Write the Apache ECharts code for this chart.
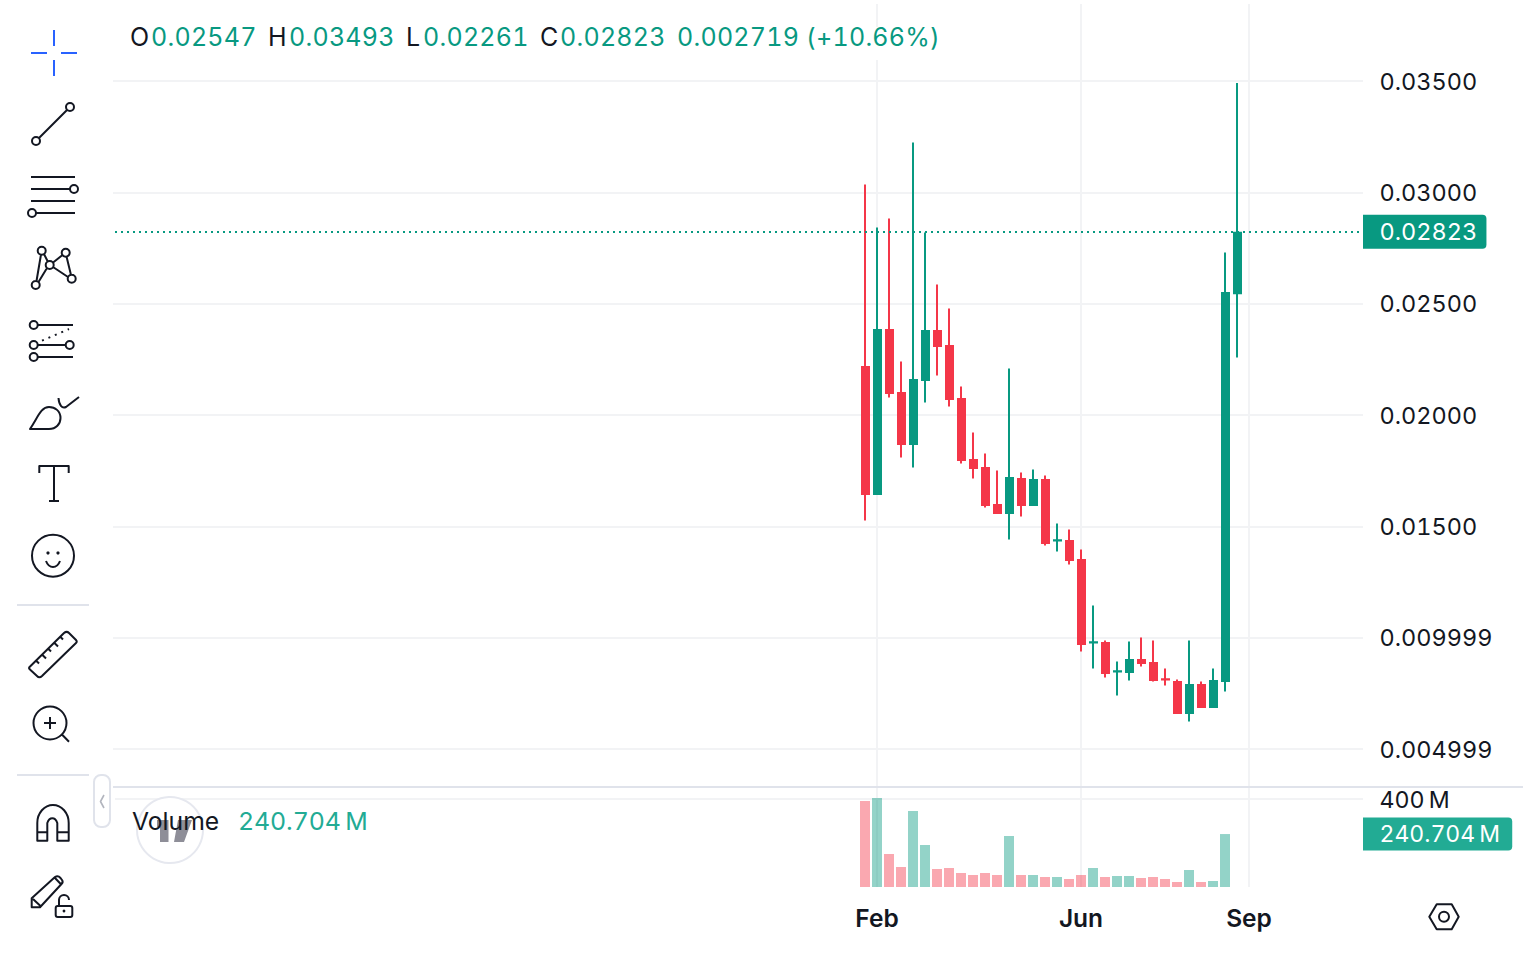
<!DOCTYPE html>
<html><head><meta charset="utf-8"><style>html,body{margin:0;padding:0;background:#fff;overflow:hidden}#c{width:1534px;height:956px}
svg text{font-feature-settings:"tnum" 1 !important;font-variant-numeric:tabular-nums !important}
svg text[style*=" 25px"]{letter-spacing:.25px}
svg text[style*=" 24.9px"]{letter-spacing:-.1px}
svg path[fill="#089981"][stroke="#089981"],svg path[fill="#F43648"][stroke="#F43648"]{transform:translate(.5px,.5px)}
</style>
<script src="https://cdn.jsdelivr.net/npm/echarts@6/dist/echarts.min.js"></script></head><body><div id="c"></div>
<script>
const opens =[.02220,.01645,.02386,.02103,.01870,.02157,.02382,.02314,.02076,.01802,.01767,.01600,.01560,.01717,.01596,.01713,.01439,.01439,.01353,.00981,.00981,.00850,.00846,.00904,.00891,.00815,.00805,.00662,.00792,.00689,.00805,.02547];
const closes=[.01645,.02386,.02099,.01870,.02162,.02382,.02310,.02072,.01798,.01762,.01596,.01560,.01722,.01596,.01713,.01425,.01440,.01349,.00972,.00982,.00841,.00851,.00904,.00886,.00810,.00814,.00662,.00792,.00689,.00810,.02552,.02823];
const lows  =[.01528,.01645,.02081,.01811,.01767,.02058,.02180,.02040,.01784,.01717,.01587,.01560,.01443,.01546,.01596,.01416,.01389,.01331,.00940,.00864,.00823,.00743,.00810,.00873,.00805,.00787,.00662,.00626,.00689,.00689,.00761,.02261];
const highs =[.03037,.02844,.02885,.02243,.03226,.02822,.02588,.02481,.02130,.01924,.01829,.01753,.02211,.01744,.01758,.01731,.01515,.01488,.01398,.01147,.00990,.00895,.00985,.01003,.00990,.00864,.00814,.00990,.00805,.00864,.02732,.03493];
const volumesM=[390.9,404.5,150,90.9,345.5,190.9,81.8,86.4,63.6,54.5,63.6,54.5,231.8,54.5,54.5,45.5,45.5,36.4,54.5,86.4,45.5,50,50,40.9,45.5,36.4,22.7,77.3,22.7,27.3,240.704];
const volumeUp=[0,1,0,0,1,1,0,0,0,0,0,0,1,0,1,0,1,0,0,1,0,1,1,0,0,0,0,1,0,1,1];
const priceTicks=['0.004999','0.009999','0.01500','0.02000','0.02500','0.03000','0.03500'];
const monthLabels=[['Feb',63],['Jun',80],['Sep',94]];
const lastPrice=0.02823, lastVolume=240.704;
const legendParts=[['O',130,0],['0.02547',151,1],['H',268,0],['0.03493',289,1],['L',406,0],['0.02261',423,1],['C',540,0],['0.02823',560,1],['0.002719',677,1],['(+10.66%)',806,1]];

const BANDS=104, PAD=62, FONT='Inter, sans-serif';
const UP='#089981', DOWN='#F43648', INK='#131722', GRID='#F2F3F5', SEP='#E0E3EB';
const cats=Array.from({length:BANDS},(_,i)=>{const m=monthLabels.find(x=>x[1]===i);return m?m[0]:''});
const pad=Array(PAD).fill('-');
// the 2px border grows each body by 1px top and bottom: pull the body in by that 1px (in price units)
const BORDER_INSET=0.0000225;
const inset=(o,c)=>{ if(Math.abs(o-c)<2*BORDER_INSET) return [o,c]; const s=c>o?1:-1; return [o+s*BORDER_INSET,c-s*BORDER_INSET]; };
const candle=pad.map(()=>['-','-','-','-']).concat(opens.map((o,i)=>{const b=inset(o,closes[i]);return [b[0],b[1],lows[i],highs[i]]}));
const vols=pad.concat(volumesM.map((v,i)=>({value:v,itemStyle:{color:volumeUp[i]?'rgba(5,154,128,.43)':'rgba(244,54,72,.43)'}})));

const icons={
 cross:'M54 30V46M54 60V76M31 53H47M61 53H77',
 line:'M39 138L67 110M40 141A4 4 0 1 1 32 141A4 4 0 1 1 40 141M74 107A4 4 0 1 1 66 107A4 4 0 1 1 74 107',
 fib:'M31 177H75M31 189H70M31 201H75M36 213H75M78 189A4 4 0 1 1 70 189A4 4 0 1 1 78 189M36 213A4 4 0 1 1 28 213A4 4 0 1 1 36 213',
 pattern:'M36.5 281L41 254.5M44 254L48 262M38.5 282L47 268M52.5 263L62.5 255M66.5 256.5L71 275M53 267L68 277M45.7 250.7A4 4 0 1 1 37.7 250.7A4 4 0 1 1 45.7 250.7M69.7 252.7A4 4 0 1 1 61.7 252.7A4 4 0 1 1 69.7 252.7M53.7 265A4 4 0 1 1 45.7 265A4 4 0 1 1 53.7 265M75.7 278.7A4 4 0 1 1 67.7 278.7A4 4 0 1 1 75.7 278.7M39.7 285A4 4 0 1 1 31.7 285A4 4 0 1 1 39.7 285',
 fore:'M38 325H73M38 345H65M38 357H73M37.7 325A4 4 0 1 1 29.7 325A4 4 0 1 1 37.7 325M37.7 345A4 4 0 1 1 29.7 345A4 4 0 1 1 37.7 345M73.7 345A4 4 0 1 1 65.7 345A4 4 0 1 1 73.7 345M37.7 357A4 4 0 1 1 29.7 357A4 4 0 1 1 37.7 357',
 foreDots:'M42 340.7L69 329',
 brush:'M30 429H49C56 429 60.500 424 60.500 418C60.500 411 55 407 49 407C41 407 38 417 30 429ZM58.500 398C59 405 62 409 66 407L79 397',
 text:'M39.300 473V466H68.700V473M54 466V501M49 501H59',
 smile:'M74 555.700A21 21 0 1 1 32 555.700A21 21 0 1 1 74 555.700M46 561C49 569 57 569 60 561',
 ruler:'M29.300 667.300L64 633Q66.700 630.700 69 633L76 640Q77.500 641.700 76 643L42 676Q39.300 678.500 37 676L30.500 670Q28.500 668.500 29.300 667.300ZM36 660.500L39 663.500M42 654.500L46 658.500M48 648.500L51 651.500M54 642.500L58 646.500M60 636.500L63 639.500',
 zoom:'M66.500 723A16.500 16.500 0 1 1 33.500 723A16.500 16.500 0 1 1 66.500 723M44 723H56M50 717V729M61.700 734.300L69 741.700',
 magnet:'M37.300 840.700V823A15.700 18 0 0 1 68.700 823V840.700H57.300V823A5.700 9 0 0 0 47.300 823V840.700ZM37.300 832.300H47.300M57.300 832.300H68.700',
 pencil:'M31.700 907.300V898.300L55 877Q58 875 60.500 878L62 880Q63.500 882 61.500 884L40 907.300ZM33 899L41 906.500M55 878L61.700 885',
 lock:'M57.700 906H70.300Q72.300 906 72.300 908V915Q72.300 917 70.300 917H57.700Q55.700 917 55.700 915V908Q55.700 906 57.700 906ZM59 906V900A5 5 0 0 1 69 900',
 hex:'M1429.300 916.700L1436.700 904.300H1451.700L1458.700 916.700L1451.700 929.300H1436.700ZM1449 916.700A5 5 0 1 1 1439 916.700A5 5 0 1 1 1449 916.700',
 chevron:'M104 795L100.500 801.500L104 808',
 logo:'M157 820H168.500V842H160V827H157ZM178 820H192L184 842H174Z'
};
Object.keys(icons).forEach(k=>echarts.graphic.registerShape('ic_'+k,echarts.graphic.extendPath(icons[k],{})));
const ic=(k,stroke,w,extra)=>Object.assign({type:'ic_'+k,silent:true,z:5,style:Object.assign({fill:'none',stroke:stroke||INK,lineWidth:w||2,lineJoin:'round',lineCap:'butt'},extra||{})},{});
const txt=(t,x,y,color,size,weight)=>({type:'text',x,y,silent:true,z:7,style:{text:t,fill:color,font:`${weight||400} ${size||25}px ${FONT}`,verticalAlign:'middle',align:'left'}});
const rule=(x1,y1,x2,y2,c)=>({type:'line',silent:true,z:3,shape:{x1,y1,x2,y2},style:{stroke:c||SEP,lineWidth:2}});

const graphic=[
 {type:'rect',silent:true,z:1,shape:{x:113,y:27,width:830,height:33},style:{fill:'#fff'}},
 rule(113,787,1523,787),rule(17,605,89,605),rule(17,775,89,775),
 ic('cross','#2962FF',2),ic('line'),ic('fib'),ic('pattern'),ic('fore'),ic('foreDots',INK,2,{lineDash:[2,5]}),ic('brush'),ic('text'),ic('smile'),
 {type:'circle',silent:true,z:5,shape:{cx:48,cy:553,r:1.6},style:{fill:INK}},
 {type:'circle',silent:true,z:5,shape:{cx:58,cy:553,r:1.6},style:{fill:INK}},
 ic('ruler'),ic('zoom'),ic('magnet'),ic('pencil'),ic('lock'),
 {type:'circle',silent:true,z:5,shape:{cx:64,cy:911,r:1.4},style:{fill:INK}},
 ic('hex'),
 {type:'rect',silent:true,z:5,shape:{x:94,y:775,width:16,height:52,r:7},style:{fill:'#fff',stroke:SEP,lineWidth:2}},
 Object.assign(ic('chevron','#B2B5BE',1.6),{z:6}),
 {type:'circle',silent:true,z:4,shape:{cx:170,cy:830,r:33},style:{fill:'#fff',stroke:'#E6E8EF',lineWidth:2}},
 {type:'ic_logo',silent:true,z:5,style:{fill:'#8E8E98',stroke:'none'}},
 txt('Volume',132,821,INK,24.7),
 txt('240.704\u2009M',238,821,'#22AB94',24.9),
 txt('400\u2009M',1379.5,799.5,INK,23.2),
].concat(legendParts.map(p=>txt(p[0],p[1],37,p[2]?UP:INK)));

const hidden={show:false};
const noAxisX=(g)=>({type:'category',gridIndex:g,data:cats,boundaryGap:true,axisLine:hidden,axisTick:hidden,axisLabel:hidden,splitLine:hidden});
const stubAxis=(g,min,max,interval)=>({type:'value',gridIndex:g,position:'left',min,max,interval,axisLine:hidden,axisLabel:hidden,splitLine:hidden,axisTick:{show:true,length:2,lineStyle:{color:GRID,width:2}}});

const option={
 animation:false,backgroundColor:'#fff',textStyle:{fontFamily:FONT},
 grid:[
  {left:115,width:1248,top:4,height:883},
  {left:115,width:1248,top:81,height:668},
  {left:115,width:1248,top:799,height:88}
 ],
 xAxis:[
  {type:'category',gridIndex:0,data:cats,boundaryGap:true,axisLine:hidden,axisTick:hidden,splitLine:hidden,
   axisLabel:{show:true,interval:0,color:INK,fontSize:24.5,fontWeight:600,fontFamily:FONT,margin:18,hideOverlap:false}},
  noAxisX(1),noAxisX(2)
 ],
 yAxis:[
  {type:'value',gridIndex:0,min:0,max:1,show:false},
  {type:'value',gridIndex:1,position:'right',min:0.005,max:0.035,interval:0.005,axisLine:hidden,axisTick:hidden,
   splitLine:{show:true,lineStyle:{color:GRID,width:2}},
   axisLabel:{show:true,color:INK,fontSize:23.5,fontFamily:FONT,margin:16.5,formatter:(v)=>priceTicks[Math.round((v-0.005)/0.005)]}},
  {type:'value',gridIndex:2,position:'right',min:0,max:400,interval:400,axisLine:hidden,axisTick:hidden,axisLabel:hidden,
   splitLine:{show:true,showMinLine:false,lineStyle:{color:GRID,width:2}}},
  stubAxis(1,0.005,0.035,0.005)
 ],
 series:[
  {type:'line',xAxisIndex:0,yAxisIndex:0,data:[],z:0,silent:true,
   markLine:{silent:true,symbol:'none',z:0,animation:false,label:{show:false},lineStyle:{color:GRID,width:2,type:'solid'},data:monthLabels.map(m=>({xAxis:m[1]}))}},
  {type:'candlestick',xAxisIndex:1,yAxisIndex:1,barWidth:8,data:candle,z:3,
   itemStyle:{color:UP,color0:DOWN,borderColor:UP,borderColor0:DOWN,borderColorDoji:UP,borderWidth:2},
   markLine:{silent:true,symbol:'none',animation:false,z:4,precision:6,lineStyle:{color:UP,width:2,type:[2,4]},
    label:{show:true,position:'end',distance:0,formatter:()=>'0.02823',color:'#fff',fontSize:23.5,fontFamily:FONT,backgroundColor:UP,borderRadius:[0,4,4,0],padding:[5,14,5,16.5]},
    data:[{yAxis:lastPrice}]}},
  {type:'bar',xAxisIndex:2,yAxisIndex:2,barWidth:10,clip:false,data:vols,z:3,
   markLine:{silent:true,symbol:'none',animation:false,z:4,precision:3,lineStyle:{width:0,color:'rgba(0,0,0,0)'},
    label:{show:true,position:'end',distance:0,formatter:()=>'240.704\u2009M',color:'#fff',fontSize:23,fontFamily:FONT,backgroundColor:'#22AB94',borderRadius:[0,4,4,0],padding:[5,17,5,16.5]},
    data:[{yAxis:lastVolume}]}}
 ],
 graphic:{elements:graphic}
};
const chart=echarts.init(document.getElementById('c'),null,{renderer:'svg',width:1534,height:956});
chart.setOption(option);
</script></body></html>
